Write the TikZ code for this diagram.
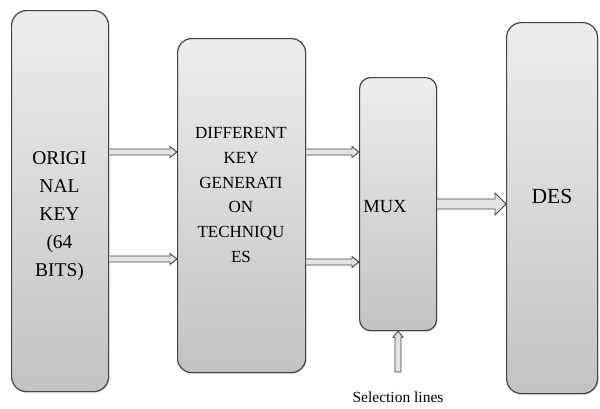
\documentclass[tikz,border=0pt]{standalone}
\usepackage{fontspec}
\setmainfont{Liberation Serif}
\usetikzlibrary{calc,shadows}
\definecolor{boxtop}{HTML}{EEECEE}
\definecolor{boxbot}{HTML}{C4C2C4}
\definecolor{edge}{HTML}{454545}
\definecolor{arrfill}{HTML}{E4E2E4}
\newcommand\hollowarr[6]{%
  \path (#1.east |- 0,#3) coordinate (hs) (#2.west |- 0,#3) coordinate (he);
  \filldraw[arr] ($(hs)+(0,-#4)$) -- ($(he)+(-#6,-#4)$) -- ($(he)+(-#6,-#5)$) -- (he)
     -- ($(he)+(-#6,#5)$) -- ($(he)+(-#6,#4)$) -- ($(hs)+(0,#4)$);}
\begin{document}
\begin{tikzpicture}[x=1pt,y=-1pt,
  blk/.style={draw=edge, line width=1.2pt, rounded corners=#1, top color=boxtop,
    bottom color=boxbot, inner sep=0pt, anchor=north west,
    drop shadow={shadow xshift=1pt,shadow yshift=-1.5pt,opacity=0.25}},
  blk/.default=15pt,
  arr/.style={draw=edge, line width=0.9pt, fill=arrfill, line join=miter},
  lbl/.style={align=center, inner sep=0pt, text=black}]
\path[use as bounding box, fill=white] (0,0) rectangle (600,408);

\node[blk, minimum width=97pt, minimum height=381pt] (key) at (11,10) {};
\node[blk=14pt, minimum width=128pt, minimum height=334pt] (gen) at (177,38) {};
\node[blk=11pt, minimum width=77pt, minimum height=253pt] (mux) at (359,77) {};
\node[blk, minimum width=91pt, minimum height=371pt] (des) at (506,22) {};

\node[lbl, font=\fontsize{19.5}{28}\selectfont] (tkey) at (59.5,216) {ORIGI\\NAL\\KEY\\(64\\BITS)};
\node[lbl, font=\fontsize{17}{24.8}\selectfont] (tgen) at (241,195) {DIFFERENT\\KEY\\GENERATI\\ON\\TECHNIQU\\ES};
\node[lbl, font=\fontsize{18.5}{22}\selectfont] (tmux) at (385,207) {MUX};
\node[lbl, font=\fontsize{21.5}{24}\selectfont] (tdes) at (552,196) {DES};
\node[lbl, font=\fontsize{15.5}{20}\selectfont] (tsel) at (398,397) {Selection lines};

\hollowarr{key}{gen}{152}{3}{5.5}{7}
\hollowarr{key}{gen}{259}{3}{5.5}{7}
\hollowarr{gen}{mux}{152}{3}{5.5}{7}
\hollowarr{gen}{mux}{262}{3}{5.5}{7}
\hollowarr{mux}{des}{204}{5}{11}{11}

\coordinate (sel) at (398,372);
\path (sel |- mux.south) coordinate (st);
\filldraw[arr] ($(sel)+(-3,0)$) -- ($(st)+(-3,6)$) -- ($(st)+(-5,6)$) -- (st)
   -- ($(st)+(5,6)$) -- ($(st)+(3,6)$) -- ($(sel)+(3,0)$) -- cycle;
\end{tikzpicture}
\end{document}
